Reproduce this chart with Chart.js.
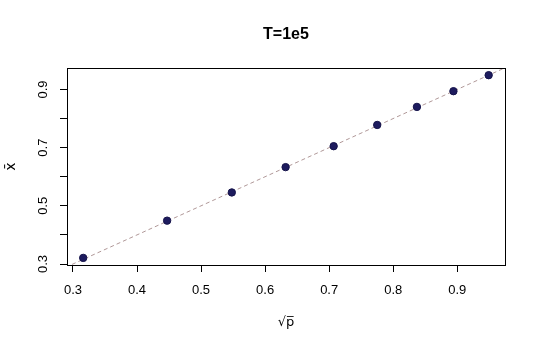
<!DOCTYPE html>
<html>
<head>
<meta charset="utf-8">
<script src="https://cdn.jsdelivr.net/npm/chart.js@4"></script>
<style>
html,body{margin:0;padding:0;background:#fff;}
#wrap{width:540px;height:350px;}
</style>
</head>
<body>
<div id="wrap"><canvas id="c" width="540" height="350"></canvas></div>
<script>
// ---- data ----
const sqrtP = [0.316, 0.447, 0.548, 0.632, 0.707, 0.775, 0.837, 0.894, 0.949];
const xBar  = [0.321, 0.449, 0.546, 0.633, 0.705, 0.778, 0.840, 0.894, 0.949];
const refLine = [0.0, 1.2];           // y = x reference line endpoints
const xTickLabels = ['0.3','0.4','0.5','0.6','0.7','0.8','0.9'];
const yTickLabels = ['0.3','','0.5','','0.7','','0.9'];
const titleText = 'T=1e5';
const xTitle = '\u221Ap\u0305';
const yTitle = 'x\u0304';

const boxPlugin = {
  id: 'box',
  afterDatasetsDraw(chart) {
    const {ctx, chartArea: a} = chart;
    ctx.save();
    ctx.strokeStyle = '#000';
    ctx.lineWidth = 1;
    ctx.strokeRect(Math.round(a.left) + 0.5, Math.round(a.top) + 0.5,
                   Math.round(a.right - a.left), Math.round(a.bottom - a.top));
    ctx.restore();
  }
};

new Chart(document.getElementById('c'), {
  type: 'scatter',
  data: {
    datasets: [
      {
        data: refLine.map(v => ({x: v, y: v})),
        type: 'line',
        showLine: true,
        borderColor: '#b09898',
        borderWidth: 1,
        borderDash: [4, 3],
        pointRadius: 0,
        fill: false,
        order: 2
      },
      {
        data: sqrtP.map((v, i) => ({x: v, y: xBar[i]})),
        backgroundColor: '#1d1b5e',
        borderColor: '#15134a',
        borderWidth: 1,
        pointRadius: 3.7,
        order: 1
      }
    ]
  },
  options: {
    responsive: false,
    animation: false,
    devicePixelRatio: 1,
    layout: { padding: { left: 0, right: 35, top: 0, bottom: 0 } },
    plugins: {
      legend: { display: false },
      tooltip: { enabled: false },
      title: {
        display: true,
        text: titleText,
        fullSize: false,
        color: '#000',
        font: { family: 'Liberation Sans, Arial, sans-serif', size: 16, weight: 'bold' },
        padding: { top: 25, bottom: 24 }
      }
    },
    scales: {
      x: {
        type: 'linear',
        min: 0.2907,
        max: 0.9745,
        afterFit: s => { s.height = 85; },
        border: { display: true, color: '#000', width: 1 },
        grid: { display: true, drawOnChartArea: false, drawTicks: true, tickLength: 7, color: '#000', tickColor: '#000' },
        ticks: {
          stepSize: 0.1,
          includeBounds: false,
          color: '#000',
          padding: 11,
          maxRotation: 0,
          autoSkip: false,
          font: { family: 'Liberation Sans, Arial, sans-serif', size: 13 },
          callback: (v, i) => xTickLabels[i]
        },
        title: {
          display: true,
          text: xTitle,
          color: '#000',
          font: { family: 'DejaVu Sans, sans-serif', size: 13 },
          padding: { top: 0, bottom: 20 }
        }
      },
      y: {
        type: 'linear',
        min: 0.2966,
        max: 0.973,
        afterFit: s => { s.width = 67; },
        border: { display: true, color: '#000', width: 1 },
        grid: { display: true, drawOnChartArea: false, drawTicks: true, tickLength: 7, color: '#000', tickColor: '#000' },
        ticks: {
          stepSize: 0.1,
          includeBounds: false,
          color: '#000',
          padding: 8,
          minRotation: 90,
          maxRotation: 90,
          crossAlign: 'center',
          autoSkip: false,
          font: { family: 'Liberation Sans, Arial, sans-serif', size: 13 },
          callback: (v, i) => yTickLabels[i]
        },
        title: {
          display: true,
          text: yTitle,
          color: '#000',
          font: { family: 'DejaVu Sans, sans-serif', size: 14 },
          padding: { top: 3, bottom: 4 }
        }
      }
    }
  },
  plugins: [boxPlugin]
});
</script>
</body>
</html>
